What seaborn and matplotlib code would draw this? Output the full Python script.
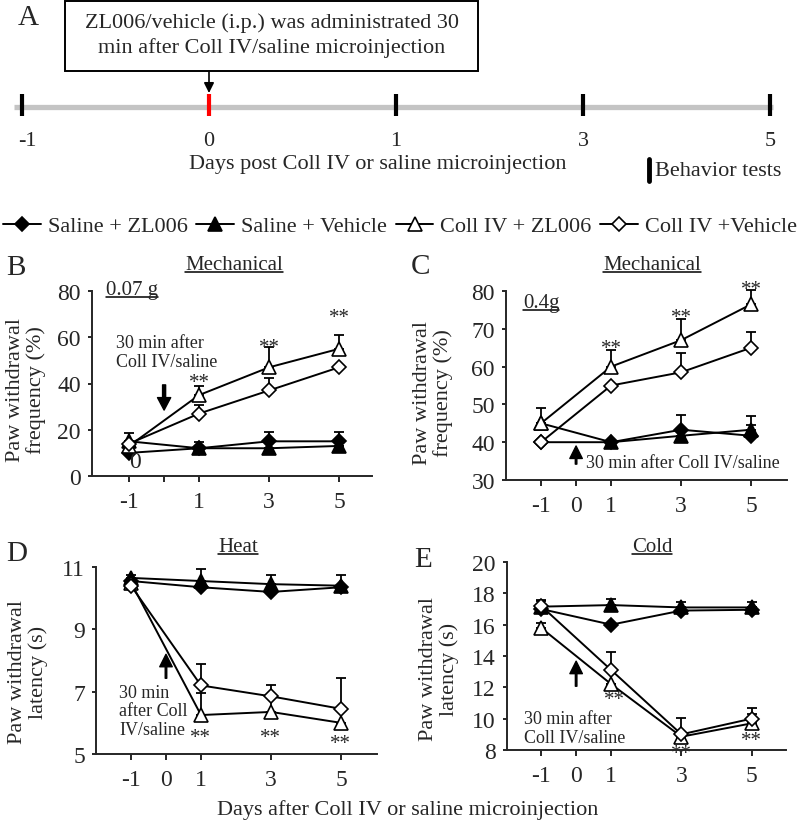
import numpy as np
import matplotlib
matplotlib.use('Agg')
import matplotlib.pyplot as plt
import seaborn as sns
from matplotlib.transforms import Affine2D
from matplotlib.patches import Rectangle
from matplotlib.lines import Line2D

# panel A timeline
tl_labels = ['-1', '0', '1', '3', '5']
tl_colors = ['black', 'red', 'black', 'black', 'black']

days = [-1, 1, 3, 5]
groups = ['Saline + ZL006', 'Saline + Vehicle', 'Coll IV + ZL006', 'Coll IV +Vehicle']

# B: mechanical 0.07 g, withdrawal frequency (%)
b_vals = [[10, 12, 15, 15],
          [15, 12, 12, 13],
          [13, 35, 47, 55],
          [14, 27, 37, 47]]
b_errs = [[0, 0, 4, 4],
          [3.5, 2.7, 0, 0],
          [0, 4, 9, 6],
          [0, 3.5, 5.5, 0]]

# C: mechanical 0.4 g, withdrawal frequency (%)
c_vals = [[40, 40, 43.3, 41.7],
          [45, 40, 41.7, 43.3],
          [45, 60, 67, 76.5],
          [40, 55, 58.5, 65]]
c_errs = [[0, 0, 4, 5.3],
          [0, 0, 0, 1.3],
          [4, 4.5, 5.5, 3.7],
          [0, 0, 5, 4.2]]

# D: heat, withdrawal latency (s)
d_vals = [[10.55, 10.35, 10.2, 10.35],
          [10.65, 10.55, 10.45, 10.4],
          [10.5, 6.25, 6.35, 6.0],
          [10.4, 7.2, 6.85, 6.45]]
d_errs = [[0, 0, 0, 0],
          [0.1, 0.4, 0.3, 0.35],
          [0, 0.7, 0.5, 0.4],
          [0, 0.7, 0.35, 1.0]]

# E: cold, withdrawal latency (s)
e_vals = [[17.0, 16.0, 16.9, 16.95],
          [17.15, 17.25, 17.1, 17.1],
          [15.8, 12.2, 8.85, 9.7],
          [17.2, 13.1, 9.0, 10.0]]
e_errs = [[0, 0, 0, 0],
          [0.4, 0.4, 0.35, 0.35],
          [0.3, 0, 0, 0.6],
          [0.3, 1.15, 1.05, 0.7]]

styles = {
    'Saline + ZL006': dict(marker='D', ms=7, fc='black'),
    'Saline + Vehicle': dict(marker='^', ms=9.5, fc='black'),
    'Coll IV + ZL006': dict(marker='^', ms=9.5, fc='white'),
    'Coll IV +Vehicle': dict(marker='D', ms=7, fc='white'),
}

sns.set_style('ticks')
plt.rcParams['font.family'] = ['Liberation Serif', 'DejaVu Serif']
plt.rcParams['axes.linewidth'] = 1.4

W, H = 800, 829
fig = plt.figure(figsize=(W / 100, H / 100), dpi=100)
# pixel coordinates, origin top-left
pix = Affine2D().scale(1 / W, -1 / H).translate(0, 1) + fig.transFigure


def rect(x0, y0, x1, y1):
    return [x0 / W, 1 - y1 / H, (x1 - x0) / W, (y1 - y0) / H]


def ptext(x, y, s, **kw):
    return fig.text(x, y, s, transform=pix, **kw)


# ---- panel A ----
ax_a = fig.add_axes(rect(0, 0, 800, 200))
ax_a.set_xlim(-22 / 187, 778 / 187)
ax_a.set_ylim(200, 0)
ax_a.axis('off')
pos = np.arange(len(tl_labels))
ax_a.plot([pos[0] - 0.045, pos[-1] + 0.015], [108, 108], color='#c4c4c4', lw=3.8,
          solid_capstyle='butt', zorder=1)
ax_a.vlines(pos, 95, 117, colors=tl_colors, lw=3, zorder=2)
for p, lab in zip(pos, tl_labels):
    ax_a.text(p + (0.03 if p == 0 else 0), 141, lab, ha='center', va='center', fontsize=16)
ax_a.annotate('', xy=(1, 94), xytext=(1, 73),
              arrowprops=dict(arrowstyle='-|>', color='black', lw=1.2, mutation_scale=15,
                              shrinkA=0, shrinkB=0))

fig.add_artist(Rectangle((65, 2), 413, 70, transform=pix, fill=False, lw=1.4, ec='black'))
ptext(272, 36, 'ZL006/vehicle (i.p.) was administrated 30\nmin after Coll IV/saline microinjection',
      ha='center', va='center', fontsize=16, linespacing=1.35)
ptext(28, 18, 'A', ha='center', va='center', fontsize=21)
ptext(378, 165, 'Days post Coll IV or saline microinjection', ha='center', va='center', fontsize=16)
fig.add_artist(Line2D([648.5, 648.5], [160, 182], transform=pix, color='black', lw=3.5))
ptext(655, 171, 'Behavior tests', ha='left', va='center', fontsize=16)

# ---- legend ----
handles = [Line2D([], [], color='black', lw=1.4, marker=styles[g]['marker'],
                  markersize=styles[g]['ms'] + (1 if styles[g]['marker'] == '^' else 0.5),
                  markerfacecolor=styles[g]['fc'], markeredgecolor='black',
                  markeredgewidth=1.2) for g in groups]
fig.legend(handles, groups, loc='center', bbox_to_anchor=(0.5, 1 - 227 / H), ncol=4,
           frameon=False, fontsize=16, handlelength=1.7, handletextpad=0.3,
           columnspacing=0.4, borderpad=0, borderaxespad=0)


def panel(ax, vals, errs, xlim, ylim, yticks, xlabels):
    for g, v, e in zip(groups, vals, errs):
        st = styles[g]
        ax.errorbar(days, v, yerr=[np.zeros(len(e)), e], fmt='none', ecolor='black',
                    elinewidth=1.3, capsize=3.5, capthick=1.3, zorder=2, clip_on=False)
        sns.lineplot(x=days, y=v, ax=ax, color='black', lw=1.4, marker=st['marker'],
                     markersize=st['ms'], markerfacecolor=st['fc'], markeredgecolor='black',
                     markeredgewidth=1.2, zorder=3, clip_on=False, errorbar=None)
    ax.set_xlim(xlim)
    ax.set_ylim(ylim)
    ax.set_yticks(yticks)
    ax.set_xticks([-1, 0, 1, 3, 5], xlabels)
    ax.set_xlabel('')
    ax.set_ylabel('')
    sns.despine(ax=ax)
    ax.tick_params(axis='x', direction='out', length=4.5, width=1.4, pad=6, labelsize=17)
    ax.tick_params(axis='y', direction='out', length=3, width=1.4, pad=5, labelsize=17)
    ax.patch.set_alpha(0)


ax_b = fig.add_axes(rect(92, 292, 372, 477))
panel(ax_b, b_vals, b_errs, (-2.06, 5.94), (0, 80), [0, 20, 40, 60, 80], ['-1', '', '1', '3', '5'])
ax_c = fig.add_axes(rect(506, 292, 787, 481))
panel(ax_c, c_vals, c_errs, (-2.0, 6.02), (30, 80), [30, 40, 50, 60, 70, 80], tl_labels)
ax_d = fig.add_axes(rect(96, 568, 377, 755))
panel(ax_d, d_vals, d_errs, (-2.0, 6.03), (5, 11), [5, 7, 9, 11], tl_labels)
ax_e = fig.add_axes(rect(507, 563, 786, 751))
panel(ax_e, e_vals, e_errs, (-1.97, 5.98), (8, 20), [8, 10, 12, 14, 16, 18, 20], tl_labels)

arrow_thick = dict(facecolor='black', edgecolor='black', width=2.2, headwidth=9.5, headlength=9, shrink=0)
arrow_thin = dict(facecolor='black', edgecolor='black', width=1.1, headwidth=9, headlength=9, shrink=0)
star_fs = 15

# B annotations
ax_b.annotate('', xy=(0, 28.5), xytext=(0, 39.4), arrowprops=arrow_thick)
ptext(116, 353, '30 min after\nColl IV/saline', ha='left', va='center', fontsize=13, linespacing=1.15)
for x, y in [(1, 38.3), (3, 53.5), (5, 66.4)]:
    ax_b.text(x, y, '**', ha='center', va='baseline', fontsize=star_fs)
ptext(135, 463, '0', ha='center', va='center', fontsize=17)

# C annotations
ax_c.annotate('', xy=(0, 39.0), xytext=(0, 34.2), arrowprops=arrow_thin)
ptext(586, 464, '30 min after Coll IV/saline', ha='left', va='center', fontsize=13)
for x, y in [(1, 63.7), (3, 71.7), (5, 79.3)]:
    ax_c.text(x, y, '**', ha='center', va='baseline', fontsize=star_fs)

# D annotations
ax_d.annotate('', xy=(0, 8.2), xytext=(0, 7.43), arrowprops=arrow_thin)
ptext(119, 712, '30 min\nafter Coll\nIV/saline', ha='left', va='center', fontsize=13, linespacing=1.13)
for x, y in [(1, 5.4), (3, 5.4), (5, 5.2)]:
    ax_d.text(x, y, '**', ha='center', va='baseline', fontsize=star_fs)

# E annotations
ax_e.annotate('', xy=(0, 13.67), xytext=(0, 12.07), arrowprops=arrow_thin)
ptext(524, 729, '30 min after\nColl IV/saline', ha='left', va='center', fontsize=13, linespacing=1.13)
for x, y in [(1, 10.95), (3, 7.5), (5, 8.3)]:
    ax_e.text(x + (0.08 if x == 1 else 0), y, '**', ha='center', va='baseline', fontsize=star_fs)

# y labels
for x, y, s in [(26, 390, 'Paw withdrawal\nfrequency (%)'), (433, 393, 'Paw withdrawal\nfrequency (%)'),
                (28, 672, 'Paw withdrawal\nlatency (s)'), (439, 669, 'Paw withdrawal\nlatency (s)')]:
    ptext(x, y, s, ha='center', va='center', rotation=90, fontsize=16, linespacing=1.05,
          multialignment='center')

# panel letters
for x, y, s in [(16, 268, 'B'), (420, 267, 'C'), (17, 554, 'D'), (423, 560, 'E')]:
    ptext(x, y, s, ha='center', va='center', fontsize=21)

ptext(408, 810, 'Days after Coll IV or saline microinjection', ha='center', va='center', fontsize=16)

# underlined titles
titles = [(234, 270, 'Mechanical', 15), (652, 270, 'Mechanical', 15), (238, 552, 'Heat', 15),
          (652, 552, 'Cold', 15), (132, 295, '0.07 g', 15), (541, 308, '0.4g', 15)]
title_texts = [ptext(x, y, s, ha='center', va='baseline', fontsize=fs) for x, y, s, fs in titles]
fig.canvas.draw()
renderer = fig.canvas.get_renderer()
for t, (x, y, s, fs) in zip(title_texts, titles):
    bb = t.get_window_extent(renderer=renderer)
    fig.add_artist(Line2D([bb.x0, bb.x1], [y + 3, y + 3], transform=pix, color='black', lw=1.1))

fig.savefig('out.png', dpi=100)
